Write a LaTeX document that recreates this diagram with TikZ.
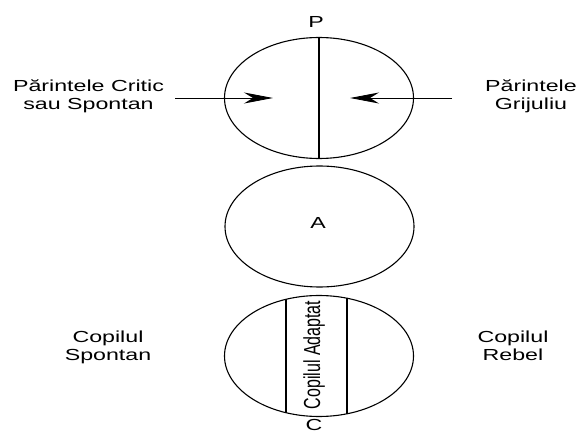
\documentclass[tikz,border=0pt]{standalone}
\usepackage{fontspec}
\setmainfont{Liberation Sans}
\usetikzlibrary{shapes.geometric,arrows.meta,calc}
\begin{document}
\begin{tikzpicture}[x=1pt,y=-1pt,
  ring/.style={draw,ellipse,line width=1.1pt,inner sep=0pt,minimum width=189pt,minimum height=121pt},
  lbl/.style={font=\fontsize{16}{18}\selectfont,inner sep=0pt,anchor=base},
  arr/.style={line width=0.9pt,-{Stealth[length=29pt,width=11pt,inset=9pt]}},
  divider/.style={line width=1.1pt}]
\useasboundingbox (0,0) rectangle (579,433);
\node[ring] (top) at (319,98) {};
\node[ring] (mid) at (319.5,226.5) {};
\node[ring] (bot) at (319,356) {};
\draw[line width=1.8pt] (top.north) -- (top.south);
\node[lbl] (P) at (316,28) {\scalebox{1.45}[1]{P}};
\node[lbl] (A) at (318,229) {\scalebox{1.45}[1]{A}};
\node[lbl] (C) at (314,430) {\scalebox{1.45}[1]{C}};
\node[lbl] (pc1) at (88.5,92) {\scalebox{1.45}[1]{Părintele Critic}};
\node[lbl] (pc2) at (88.5,110) {\scalebox{1.45}[1]{sau Spontan}};
\node[lbl] (pg1) at (531,92) {\scalebox{1.45}[1]{Părintele}};
\node[lbl] (pg2) at (531,110) {\scalebox{1.45}[1]{Grijuliu}};
\node[lbl] (cs1) at (108,342) {\scalebox{1.45}[1]{Copilul}};
\node[lbl] (cs2) at (108,360) {\scalebox{1.45}[1]{Spontan}};
\node[lbl] (cr1) at (513,342) {\scalebox{1.45}[1]{Copilul}};
\node[lbl] (cr2) at (513,360) {\scalebox{1.45}[1]{Rebel}};
\node[font=\fontsize{16}{18}\selectfont,inner sep=0pt,rotate=90] (ca) at (314,355) {\scalebox{1}[1.45]{Copilul Adaptat}};
\coordinate (la) at (175,98);
\coordinate (lt) at (273,98);
\coordinate (ra) at (452,98);
\coordinate (rt) at (350,98);
\draw[arr] (la) -- (lt);
\draw[arr] (ra) -- (rt);
\draw[divider] ($(bot.center)+(-33,-57.3)$) -- ($(bot.center)+(-33,57.3)$);
\draw[divider] ($(bot.center)+(28,-58.4)$) -- ($(bot.center)+(28,58.4)$);
\end{tikzpicture}
\end{document}
